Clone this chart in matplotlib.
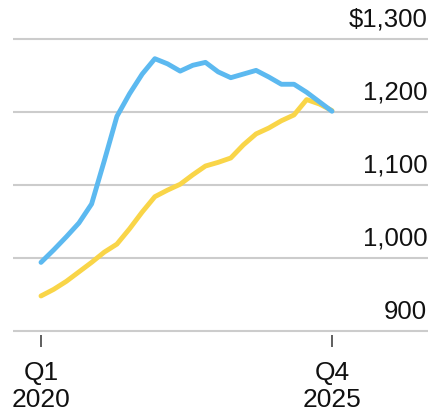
import matplotlib.pyplot as plt
from matplotlib.transforms import blended_transform_factory

plt.rcParams['font.family'] = ['Liberation Sans', 'DejaVu Sans']

# quarterly values, Q1 2020 .. Q4 2025
quarters = list(range(24))
blue = [994, 1011, 1029, 1048, 1074, 1133, 1194, 1225, 1252, 1273,
        1266, 1256, 1264, 1268, 1255, 1247, 1252, 1257, 1248, 1238,
        1238, 1227, 1214, 1201]
yellow = [948, 957, 968, 981, 994, 1008, 1019, 1040, 1063, 1084,
          1093, 1101, 1114, 1126, 1131, 1137, 1155, 1170, 1178, 1188,
          1196, 1217, 1211, 1202]

yticks = [900, 1000, 1100, 1200, 1300]
ylabels = ['900', '1,000', '1,100', '1,200', '$1,300']
xticks = [0, 23]
xlabels = ['Q1\n2020', 'Q4\n2025']

fig = plt.figure(figsize=(4.28, 4.14), dpi=100)
ax = fig.add_axes([13 / 428, 0.18925, 1 - 13 / 428, 0.72295])

for v in yticks:
    ax.axhline(v, color='#cccccc', lw=1.5, zorder=1)

ax.plot(quarters, yellow, color='#f9d548', lw=3.5, solid_capstyle='round',
        solid_joinstyle='round', zorder=3)
ax.plot(quarters, blue, color='#5cb9f0', lw=3.5, solid_capstyle='round',
        solid_joinstyle='round', zorder=4)

trans = blended_transform_factory(ax.transAxes, ax.transData)
for v, lab in zip(yticks, ylabels):
    ax.annotate(lab, xy=(1, v), xycoords=trans, xytext=(-0.5, 9.5),
                textcoords='offset points', ha='right', va='baseline',
                fontsize=18.5, color='#111111')

ax.set_xlim(-2.213, 30.59)
ax.set_ylim(895, 1305)
ax.set_yticks([])
ax.set_xticks(xticks)
ax.set_xticklabels(xlabels, fontsize=19, color='#111111', linespacing=1.12)
ax.tick_params(axis='x', length=8.5, width=1.1, color='#333333', pad=10)
for s in ax.spines.values():
    s.set_visible(False)

fig.savefig('out.png', dpi=100)
